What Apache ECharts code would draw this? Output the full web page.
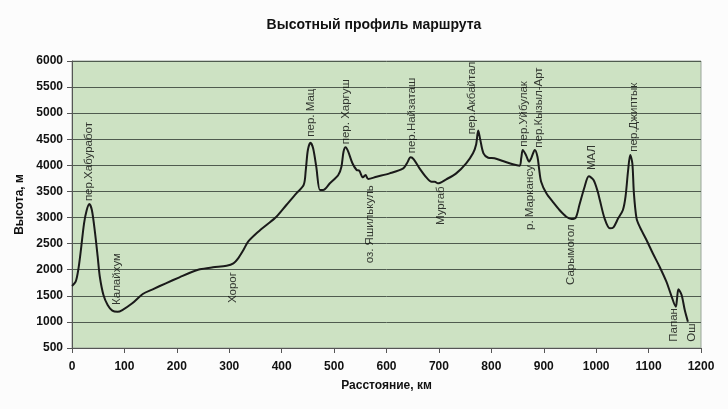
<!DOCTYPE html>
<html>
<head>
<meta charset="utf-8">
<script src="https://cdn.jsdelivr.net/npm/echarts@6/dist/echarts.min.js"></script>
<style>
html,body{margin:0;padding:0;background:#fcfcfc;}
#chart{width:728px;height:409px;}
</style>
</head>
<body>
<div id="chart"></div>
<script>
// Distance along the route, km
const distanceKm = [0,7,12,17,23,28,33,38,44,49,53,60,68,77,87,96,115,135,154,179,205,225,244,269,295,308,317,327,336,352,371,390,409,428,442,446,450,455,460,466,473,479,492,508,514,518,522,527,535,543,548,555,560,565,581,606,632,639,646,652,663,676,686,692,698,714,733,752,765,771,775,779,785,794,806,822,841,854,857,860,866,872,876,883,888,891,895,905,918,930,943,953,961,968,978,986,995,1003,1007,1016,1026,1033,1042,1051,1056,1061,1065,1069,1072,1077,1083,1096,1108,1121,1134,1143,1152,1154,1157,1163,1169,1175];
// Elevation, m
const heightM = [1690,1770,2000,2380,2890,3140,3260,3140,2700,2250,1870,1515,1325,1215,1195,1228,1357,1535,1625,1740,1855,1943,2008,2046,2077,2123,2219,2378,2537,2698,2857,3016,3240,3465,3624,3911,4294,4434,4327,3975,3528,3528,3656,3815,3975,4262,4346,4262,4040,3911,3898,3770,3815,3739,3783,3847,3943,4040,4155,4116,3943,3770,3687,3687,3656,3733,3847,4040,4231,4400,4670,4486,4231,4147,4135,4084,4020,3994,4135,4294,4199,4071,4135,4294,4166,3943,3687,3465,3292,3145,3016,2972,2997,3240,3591,3790,3720,3496,3336,2985,2794,2813,2985,3145,3400,3911,4199,4040,3465,2985,2825,2570,2315,2058,1770,1515,1292,1420,1625,1515,1228,1004];
// Place names and where their (rotated) text starts
const placeNames = ['пер.Хабуработ','Калайхум','Хорог','пер. Мац','пер. Харгуш','оз. Яшилькуль','пер.Найзаташ','Мургаб','пер.Акбайтал','пер.Уйбулак','р. Маркансу','пер.Кызыл-Арт','Сарымогол','МАЛ','пер.Джиптык','Папан','Ош'];
const placeKm = [33,86,306,456,523,569,649,704,763,862,874,890,951,991,1071,1148,1183];
const placeM = [3315,1325,1362,4549,4404,2123,4231,2857,4595,4358,2761,4338,1707,3911,4262,620,620];
// Axis ticks
const xTicks = {min:0, max:1200, step:100};
const yTicks = {min:500, max:6000, step:500};

const line = distanceKm.map((d,i)=>[d,heightM[i]]);
const places = placeNames.map((n,i)=>({name:n, value:[placeKm[i], placeM[i]]}));

const font = "'Liberation Sans', Arial, sans-serif";
const plain = v => String(v);
const chart = echarts.init(document.getElementById('chart'), null, {renderer:'canvas'});
chart.setOption({
  backgroundColor:'#fcfcfc',
  animation:false,
  title:{
    text:'Высотный профиль маршрута',
    left:369, top:13, textAlign:'center',
    textStyle:{fontFamily:font, fontSize:14, fontWeight:'bold', color:'#111'}
  },
  grid:{
    left:72, right:27, top:61, bottom:61,
    show:true, backgroundColor:'#cde2c3', borderColor:'#9aa59a', borderWidth:1
  },
  xAxis:{
    type:'value', min:xTicks.min, max:xTicks.max, interval:xTicks.step,
    name:'Расстояние, км', nameLocation:'middle', nameGap:32,
    nameTextStyle:{fontFamily:font, fontSize:12, fontWeight:'bold', color:'#111'},
    axisLine:{show:true, onZero:false, lineStyle:{color:'#555', width:1}},
    axisTick:{show:true, inside:false, length:5, lineStyle:{color:'#555'}},
    axisLabel:{margin:13, formatter:plain, fontFamily:font, fontSize:12, fontWeight:'bold', color:'#111', showMaxLabel:true, showMinLabel:true},
    splitLine:{show:false}
  },
  yAxis:{
    type:'value', min:yTicks.min, max:yTicks.max, interval:yTicks.step,
    name:'Высота, м', nameLocation:'middle', nameGap:37,
    nameTextStyle:{fontFamily:font, fontSize:12, fontWeight:'bold', color:'#111'},
    axisLine:{show:true, lineStyle:{color:'#555', width:1}},
    axisTick:{show:true, inside:false, length:5, lineStyle:{color:'#555'}},
    axisLabel:{margin:9, formatter:plain, fontFamily:font, fontSize:12, fontWeight:'bold', color:'#111'},
    splitLine:{show:true, lineStyle:{color:'#4f5b4f', width:1}}
  },
  series:[
    {
      type:'line', data:line, smooth:0.3, symbol:'none',
      lineStyle:{color:'#1a1a1a', width:2}, z:3
    },
    {
      type:'scatter', data:places, symbolSize:0, z:4,
      label:{
        show:true, formatter:'{b}', position:'inside', rotate:90,
        align:'left', verticalAlign:'middle',
        fontFamily:font, fontSize:11.5, color:'#0a0a0a',
        textBorderWidth:0
      }
    }
  ]
});
</script>
</body>
</html>
